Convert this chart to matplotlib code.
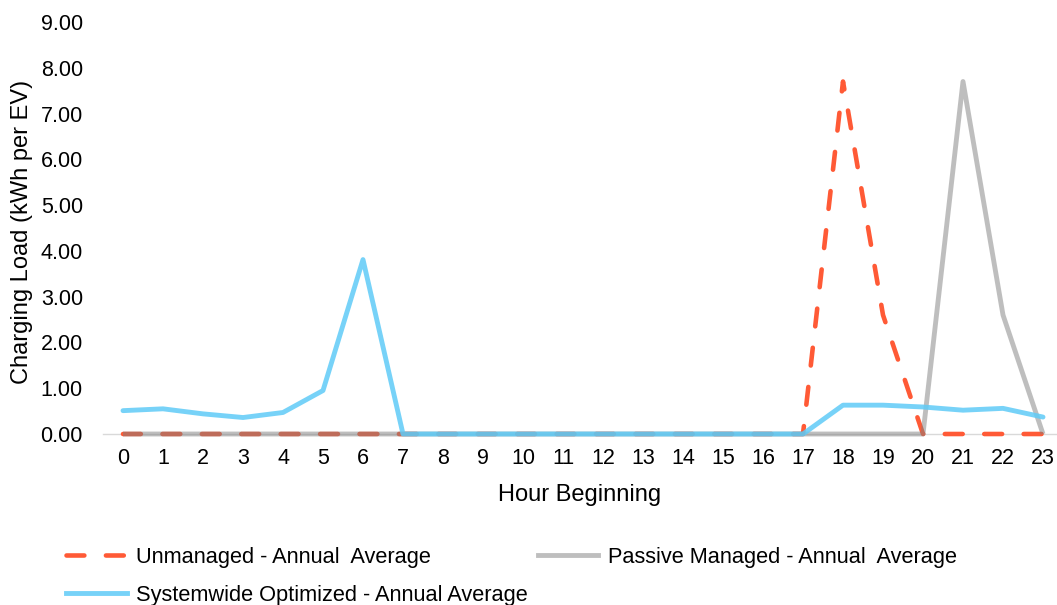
import matplotlib
matplotlib.use("Agg")
import matplotlib.pyplot as plt
from matplotlib.lines import Line2D

plt.rcParams['font.family'] = ['Liberation Sans', 'DejaVu Sans']

hours = list(range(24))
hour_labels = [str(h) for h in hours]

unmanaged = [0, 0, 0, 0, 0, 0, 0, 0, 0, 0, 0, 0, 0, 0, 0, 0, 0, 0,
             7.70, 2.60, 0, 0, 0, 0]
passive = [0, 0, 0, 0, 0, 0, 0, 0, 0, 0, 0, 0, 0, 0, 0, 0, 0, 0,
           0, 0, 0, 7.70, 2.60, 0]
optimized = [0.51, 0.55, 0.44, 0.36, 0.47, 0.95, 3.81, 0, 0, 0, 0, 0, 0, 0,
             0, 0, 0, 0, 0.63, 0.63, 0.59, 0.52, 0.56, 0.37]

y_ticks = [0, 1, 2, 3, 4, 5, 6, 7, 8, 9]

series_names = ["Unmanaged - Annual  Average",
                "Passive Managed - Annual  Average",
                "Systemwide Optimized - Annual Average"]

W, H = 1057, 605
fig = plt.figure(figsize=(W / 100, H / 100), dpi=100)

# axes placed in pixel terms: x=-0.5 at 103px, 40px per hour; y 0..9 from 434px to 22px
left_px, right_px = 103, 1057
top_px, bottom_px = 22, 434
ax = fig.add_axes([left_px / W, 1 - bottom_px / H,
                   (right_px - left_px) / W, (bottom_px - top_px) / H])
ax.set_xlim(-0.5, -0.5 + (right_px - left_px) / 40)
ax.set_ylim(0, 9)

fs = 15.5
fs_title = 17
fs_leg = 15.7
lw = 3.5

orange = "#FF5A36"
gray = "#7F7F7F"
blue = "#5FCBF7"

l_un, = ax.plot(hours, unmanaged, color=orange, lw=3.3, dashes=(3.9, 4.7),
                dash_capstyle='round', solid_capstyle='round', clip_on=False, zorder=3)
l_pa, = ax.plot(hours, passive, color=gray, alpha=0.5, lw=lw,
                solid_capstyle='butt', clip_on=False, zorder=4)
l_op, = ax.plot(hours, optimized, color=blue, alpha=0.85, lw=lw,
                solid_capstyle='round', clip_on=False, zorder=5)

for s in ["top", "right", "left"]:
    ax.spines[s].set_visible(False)
ax.spines["bottom"].set_color("#D9D9D9")
ax.spines["bottom"].set_linewidth(1.0)
ax.spines["bottom"].set_zorder(1)

ax.set_xticks(hours)
ax.set_xticklabels(hour_labels)
ax.set_yticks(y_ticks)
ax.set_yticklabels([f"{v:.2f}" for v in y_ticks])
ax.tick_params(axis="both", length=0, labelsize=fs, colors="#000000")
ax.tick_params(axis="y", pad=14.5)
ax.tick_params(axis="x", pad=10)

fig.text(22 / W, 1 - 232 / H, "Charging Load (kWh per EV)", rotation=90,
         ha="center", va="center", fontsize=fs_title)
fig.text(580 / W, 1 - 495 / H, "Hour Beginning", ha="center", va="center",
         fontsize=fs_title)

handles = [Line2D([], [], color=orange, lw=3.3, dashes=(3.9, 4.7), dash_capstyle='round'),
           Line2D([], [], color=blue, alpha=0.85, lw=lw),
           Line2D([], [], color=gray, alpha=0.5, lw=lw)]
labels = [series_names[0], series_names[2], series_names[1]]
fig.legend(handles, labels, loc="upper left", bbox_to_anchor=(66 / W, 1 - 547 / H),
           ncol=2, frameon=False, fontsize=fs_leg, handlelength=2.78,
           handletextpad=0.43, columnspacing=0.46, labelspacing=0.77,
           borderpad=0, borderaxespad=0)

fig.savefig("out.png", dpi=100)
